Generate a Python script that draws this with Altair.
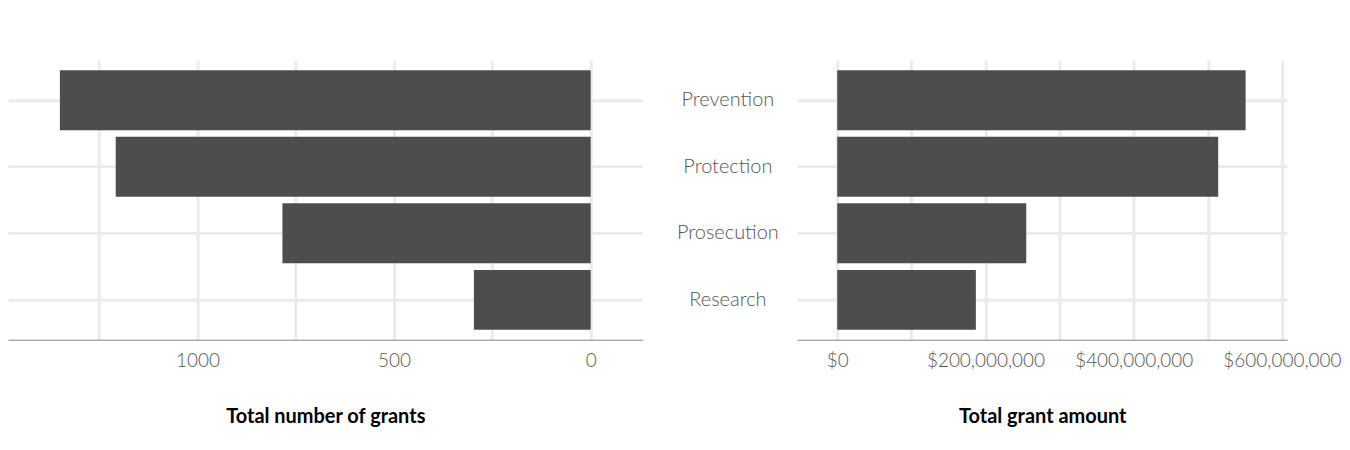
import altair as alt
import pandas as pd

categories = ["Prevention", "Protection", "Prosecution", "Research"]
grant_counts = [1350, 1208, 784, 297]
grant_amounts = [551000000, 514000000, 255000000, 187000000]

df = pd.DataFrame({"cat": categories, "n": grant_counts, "amt": grant_amounts})
FONT = "Lato"
ysort = categories

left = alt.Chart(df).mark_bar(color="#4d4d4d").encode(
    x=alt.X("n:Q", scale=alt.Scale(domain=[-132, 1482], reverse=True, nice=False, zero=False),
            axis=alt.Axis(values=[0, 250, 500, 750, 1000, 1250],
                          labelExpr="datum.value % 500 == 0 ? datum.label : ''",
                          title="Total number of grants", format="d")),
    y=alt.Y("cat:N", sort=ysort, scale=alt.Scale(paddingInner=0.1, paddingOuter=0.15),
            axis=alt.Axis(labels=False, title=None, ticks=False, domain=False)),
).properties(width=636, height=280)

right = alt.Chart(df).mark_bar(color="#4d4d4d").encode(
    x=alt.X("amt:Q", scale=alt.Scale(domain=[-54000000, 607000000], nice=False, zero=False),
            axis=alt.Axis(values=[0, 100000000, 200000000, 300000000, 400000000, 500000000, 600000000],
                          labelExpr="datum.value % 200000000 == 0 ? '$' + format(datum.value, ',') : ''",
                          title="Total grant amount")),
    y=alt.Y("cat:N", sort=ysort, scale=alt.Scale(paddingInner=0.1, paddingOuter=0.15),
            axis=alt.Axis(title=None, ticks=False, domain=False, labelAlign="center",
                          labelPadding=70, labelFontSize=20, labelLimit=200)),
).properties(width=491, height=280)

chart = alt.hconcat(left, right, spacing=33).properties(
    padding={"top": 52, "left": 0, "right": 0, "bottom": 0}
).configure_view(stroke=None).configure_axis(
    gridColor="#ebebeb", gridWidth=3, labelFont=FONT, titleFont=FONT,
    labelFontSize=19, labelColor="#555555", labelFontWeight=300,
    titleFontSize=20, titleFontWeight="bold", titleColor="#000000", titlePadding=36,
    domainColor="#888888", ticks=False, labelPadding=12
).configure_axisY(grid=True)

chart.save("out.html", embed_options={"renderer": "svg", "actions": False})
